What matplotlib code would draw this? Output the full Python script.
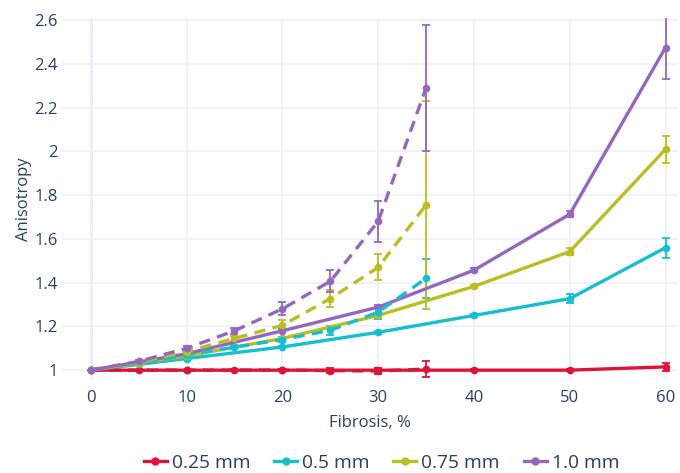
import matplotlib.pyplot as plt
from matplotlib.lines import Line2D

# fibrosis levels (%)
fib_solid = [0, 10, 20, 30, 40, 50, 60]
fib_dash = [0, 5, 10, 15, 20, 25, 30, 35]

labels = ["0.25 mm", "0.5 mm", "0.75 mm", "1.0 mm"]
colors = ["#dc143c", "#17becf", "#bcbd22", "#9467bd"]

# solid curves: mean anisotropy and std
solid_025 = [1.0, 1.0, 1.0, 1.0, 1.0, 1.0, 1.015]
solid_025_err = [0, 0.003, 0.005, 0.01, 0.004, 0.004, 0.02]
solid_05 = [1.0, 1.053, 1.106, 1.173, 1.25, 1.327, 1.56]
solid_05_err = [0, 0.004, 0.006, 0.008, 0.005, 0.02, 0.045]
solid_075 = [1.0, 1.065, 1.145, 1.25, 1.383, 1.542, 2.01]
solid_075_err = [0, 0.004, 0.006, 0.008, 0.006, 0.015, 0.062]
solid_10 = [1.0, 1.075, 1.18, 1.288, 1.457, 1.713, 2.475]
solid_10_err = [0, 0.004, 0.006, 0.01, 0.01, 0.015, 0.145]

# dashed curves
dash_025 = [1.0, 1.0, 1.0, 1.0, 1.0, 0.998, 0.996, 1.005]
dash_025_err = [0, 0.002, 0.003, 0.004, 0.006, 0.01, 0.015, 0.035]
dash_05 = [1.0, 1.03, 1.07, 1.105, 1.14, 1.182, 1.265, 1.42]
dash_05_err = [0, 0.004, 0.006, 0.008, 0.012, 0.02, 0.03, 0.09]
dash_075 = [1.0, 1.035, 1.085, 1.145, 1.205, 1.327, 1.47, 1.755]
dash_075_err = [0, 0.004, 0.008, 0.012, 0.025, 0.04, 0.06, 0.475]
dash_10 = [1.0, 1.04, 1.10, 1.18, 1.28, 1.406, 1.68, 2.29]
dash_10_err = [0, 0.005, 0.01, 0.015, 0.03, 0.05, 0.095, 0.29]

solid = [(solid_025, solid_025_err), (solid_05, solid_05_err),
         (solid_075, solid_075_err), (solid_10, solid_10_err)]
dashed = [(dash_025, dash_025_err), (dash_05, dash_05_err),
          (dash_075, dash_075_err), (dash_10, dash_10_err)]

plt.rcParams['font.family'] = ['Open Sans', 'DejaVu Sans']
txt = "#2a3f5f"
grid = "#ebf0f8"

fig = plt.figure(figsize=(6.8, 4.73), dpi=100)
ax = fig.add_axes([62/680, 1 - 380/473, 616/680, 362/473])

for (y, e), c in zip(solid, colors):
    ax.errorbar(fib_solid, y, yerr=e, color=c, lw=2.4, marker='o', ms=4.5,
                capsize=3, capthick=1.3, elinewidth=1.3, zorder=3)
for (y, e), c in zip(dashed, colors):
    ax.errorbar(fib_dash, y, yerr=e, color=c, lw=2.4, ls=(0, (3.4, 2.2)), marker='o', ms=4.5,
                capsize=3, capthick=1.3, elinewidth=1.3, zorder=3)

ax.set_xlim(-3.0, 61.3)
ax.set_ylim(0.955, 2.61)
ax.set_xticks([0, 10, 20, 30, 40, 50, 60])
ax.set_yticks([1, 1.2, 1.4, 1.6, 1.8, 2, 2.2, 2.4, 2.6])
ax.set_yticklabels(["1", "1.2", "1.4", "1.6", "1.8", "2", "2.2", "2.4", "2.6"])
ax.grid(True, color=grid, lw=1.1, zorder=0)
ax.axvline(0, color=grid, lw=2, zorder=1)
for s in ax.spines.values():
    s.set_visible(False)
ax.tick_params(length=0, labelsize=12, labelcolor=txt)
ax.tick_params(axis='x', pad=7)
ax.tick_params(axis='y', pad=3)
ax.set_xlabel("Fibrosis, %", fontsize=12, color=txt, labelpad=7)
ax.set_ylabel("Anisotropy", fontsize=12, color=txt, labelpad=2)

handles = [Line2D([], [], color=c, lw=2.4, marker='o', ms=5) for c in colors]
fig.legend(handles, labels, loc='center', bbox_to_anchor=(0.561, 1 - 463/473), ncol=4,
           frameon=False, fontsize=13.8, labelcolor=txt, handlelength=1.2,
           handletextpad=0.25, columnspacing=1.25)

fig.savefig("out.png", dpi=100)
